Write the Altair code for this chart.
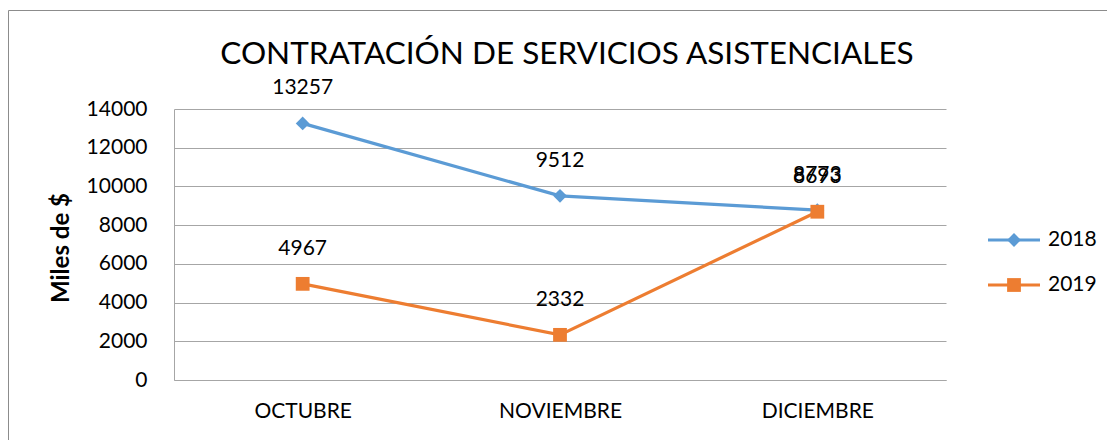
import altair as alt
import pandas as pd

months = ["OCTUBRE", "NOVIEMBRE", "DICIEMBRE"]
series_names = ["2018", "2019"]
values_2018 = [13257, 9512, 8773]
values_2019 = [4967, 2332, 8693]
colors = ["#5B9BD5", "#ED7D31"]
shapes = ["diamond", "square"]
y_ticks = [0, 2000, 4000, 6000, 8000, 10000, 12000, 14000]

FONT = "Lato"
W, H = 772, 271

rows = []
for m, v in zip(months, values_2018):
    rows.append({"mes": m, "serie": "2018", "valor": v})
for m, v in zip(months, values_2019):
    rows.append({"mes": m, "serie": "2019", "valor": v})
df = pd.DataFrame(rows)

x_enc = alt.X("mes:N", sort=months,
              scale=alt.Scale(type="point", padding=0.5),
              axis=alt.Axis(title=None, labelFont=FONT, labelFontSize=21, labelColor="#000000",
                            labelPadding=20, ticks=False, tickSize=0, domainColor="#a6a6a6",
                            domainWidth=1, grid=False, labelAngle=0))
y_enc = alt.Y("valor:Q", scale=alt.Scale(domain=[0, 14000], nice=False),
              axis=alt.Axis(title=None, values=y_ticks, tickCount=20, format="d", labelOverlap=False,
                            labelFont=FONT, labelFontSize=21,
                            labelColor="#000000", labelPadding=27, ticks=False, tickSize=0,
                            domainColor="#a6a6a6", gridColor="#a6a6a6", gridWidth=1))
color_enc = alt.Color("serie:N", scale=alt.Scale(domain=series_names, range=colors), legend=None)
shape_enc = alt.Shape("serie:N", scale=alt.Scale(domain=series_names, range=shapes), legend=None)

base = alt.Chart(df)
lines = base.mark_line(strokeWidth=3.2).encode(x=x_enc, y=y_enc, color=color_enc, detail="serie:N")
points = base.mark_point(filled=True, size=190, opacity=1).encode(
    x=x_enc, y=y_enc, color=color_enc, shape=shape_enc)
labels = base.mark_text(font=FONT, fontSize=21, dy=-35, baseline="middle", color="#000000").encode(
    x=x_enc, y=y_enc, text="valor:Q")

one = pd.DataFrame({"k": [0]})
frame = alt.Chart(one).mark_rect(fill="transparent", stroke="#8c8c8c", strokeWidth=1).encode(
    x=alt.value(-165.5), x2=alt.value(W + 300), y=alt.value(-98.5), y2=alt.value(H + 200))
title = alt.Chart(one).mark_text(font=FONT, fontSize=31.5, baseline="middle", align="center",
                                 color="#000000").encode(
    x=alt.value(393), y=alt.value(-54), text=alt.value("CONTRATACIÓN DE SERVICIOS ASISTENCIALES"))
ytitle = alt.Chart(one).mark_text(font=FONT, fontSize=24, fontWeight="bold", angle=270,
                                  baseline="middle", align="center", color="#000000").encode(
    x=alt.value(-112), y=alt.value(139), text=alt.value("Miles de $"))

legend_layers = []
for i, name in enumerate(series_names):
    ly = 131 + i * 45
    ldf = pd.DataFrame({"serie": [name]})
    legend_layers.append(alt.Chart(ldf).mark_rule(strokeWidth=3.2, color=colors[i]).encode(
        x=alt.value(814), x2=alt.value(866), y=alt.value(ly)))
    legend_layers.append(alt.Chart(ldf).mark_point(filled=True, size=190, opacity=1, shape=shapes[i],
                                                   color=colors[i]).encode(
        x=alt.value(840), y=alt.value(ly)))
    legend_layers.append(alt.Chart(ldf).mark_text(font=FONT, fontSize=21, align="left", baseline="middle",
                                                  color="#000000").encode(
        x=alt.value(874), y=alt.value(ly), text="serie:N"))

chart = alt.layer(frame, lines, points, labels, title, ytitle, *legend_layers).properties(
    width=W, height=H,
    autosize=alt.AutoSizeParams(type="none"),
    padding={"left": 166, "top": 101, "right": 161, "bottom": 60},
    background="white",
).configure_view(stroke=None)

chart.save("out.html", embed_options={"renderer": "svg", "actions": False})
